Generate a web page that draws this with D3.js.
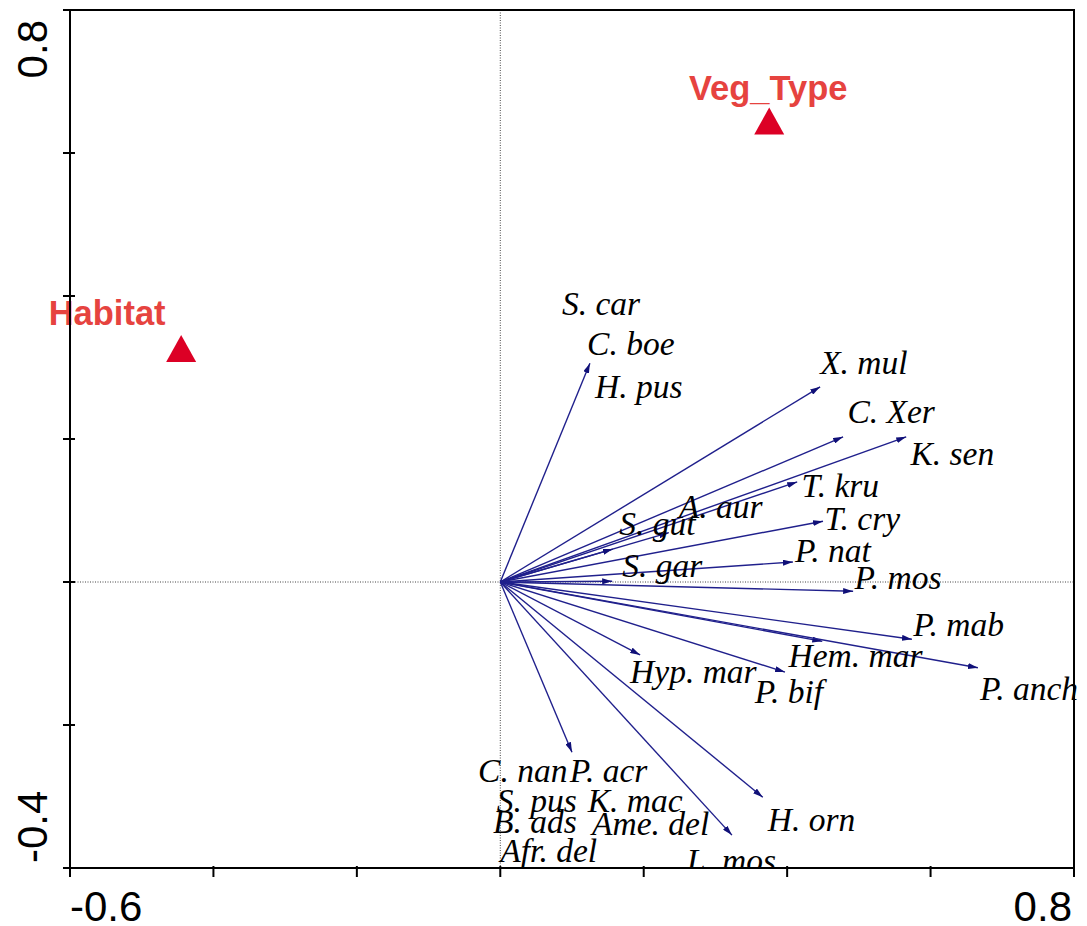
<!DOCTYPE html>
<html>
<head>
<meta charset="utf-8">
<script src="https://cdn.jsdelivr.net/npm/d3@7"></script>
<style>
  html, body { margin: 0; padding: 0; background: #fff; }
  svg { display: block; }
</style>
</head>
<body>
<svg id="chart" width="1087" height="926"></svg>
<script>
// ---- Data ----
const xDomain = [-0.6, 0.8];
const yDomain = [-0.4, 0.8];
const xTicks = [-0.6, -0.4, -0.2, 0, 0.2, 0.4, 0.6, 0.8];
const yTicks = [-0.4, -0.2, 0, 0.2, 0.4, 0.6, 0.8];
const xTickLabels = ["-0.6", "0.8"];   // only end values are labelled
const yTickLabels = ["-0.4", "0.8"];

// Species arrows (null = arrow hidden under another one)
const speciesNames = ["S. car","C. boe","H. pus","X. mul","C. Xer","K. sen","T. kru","A. aur","S. gut","T. cry","P. nat","S. gar","P. mos","P. mab","Hem. mar","P. anch","P. bif","Hyp. mar","C. nan","P. acr","S. pus","K. mac","B. ads","Ame. del","Afr. del","L. mos","H. orn"];
const speciesX = [null,0.125,null,0.446,0.478,0.566,0.414,0.235,0.157,0.450,0.408,0.156,0.492,0.574,0.449,0.666,0.397,0.195,null,0.100,null,null,null,null,null,0.323,0.366];
const speciesY = [null,0.306,null,0.273,0.203,0.203,0.140,0.069,0.046,0.085,0.028,0.001,-0.013,-0.080,-0.083,-0.120,-0.126,-0.102,null,-0.238,null,null,null,null,null,-0.354,-0.301];
// label anchor (left / baseline) in axis units
const labelX = [0.086,0.121,0.132,0.446,0.484,0.572,0.420,0.249,0.166,0.452,0.411,0.170,0.494,0.576,0.402,0.669,0.355,0.181,-0.031,0.097,-0.005,0.122,-0.010,0.128,0.000,0.260,0.373];
const labelY = [0.373,0.317,0.257,0.291,0.222,0.164,0.119,0.090,0.066,0.073,0.028,0.007,-0.010,-0.076,-0.119,-0.165,-0.169,-0.141,-0.280,-0.280,-0.322,-0.322,-0.351,-0.354,-0.392,-0.406,-0.348];

// Environmental (nominal) variables
const envNames = ["Habitat", "Veg_Type"];
const envX = [-0.445, 0.375];
const envY = [0.326, 0.644];

// ---- Layout ----
const svg = d3.select("#chart");
const x = d3.scaleLinear().domain(xDomain).range([70, 1074]);
const y = d3.scaleLinear().domain(yDomain).range([868, 10]);

const navy = "#20208c";
const red = "#dc0025";
const redText = "#e6433f";

// clip for plot content (allow overflow to the right like the original)
svg.append("defs").append("clipPath").attr("id", "plotclip")
  .append("rect").attr("x", 0).attr("y", 0).attr("width", 1087).attr("height", y(yDomain[0]));

svg.select("defs").append("marker")
  .attr("id", "arrow")
  .attr("viewBox", "0 0 10 6")
  .attr("refX", 10).attr("refY", 3)
  .attr("markerWidth", 10).attr("markerHeight", 6)
  .attr("markerUnits", "userSpaceOnUse")
  .attr("orient", "auto")
  .append("path").attr("d", "M0,0 L10,3 L0,6 Z").attr("fill", "#101078");

// zero reference lines
svg.append("line")
  .attr("x1", x(0)).attr("x2", x(0)).attr("y1", y(yDomain[1])).attr("y2", y(yDomain[0]))
  .attr("stroke", "#444").attr("stroke-width", 1).attr("stroke-dasharray", "1,1.5");
svg.append("line")
  .attr("x1", x(xDomain[0])).attr("x2", x(xDomain[1])).attr("y1", y(0)).attr("y2", y(0))
  .attr("stroke", "#444").attr("stroke-width", 1).attr("stroke-dasharray", "1,1.5");

// arrows
const species = speciesNames.map((n, i) => ({name: n, x: speciesX[i], y: speciesY[i], lx: labelX[i], ly: labelY[i]}));
svg.append("g").selectAll("line")
  .data(species.filter(d => d.x !== null))
  .join("line")
  .attr("x1", x(0)).attr("y1", y(0))
  .attr("x2", d => x(d.x)).attr("y2", d => y(d.y))
  .attr("stroke", navy).attr("stroke-width", 1.4)
  .attr("marker-end", "url(#arrow)");

// species labels
svg.append("g").attr("clip-path", "url(#plotclip)").selectAll("text")
  .data(species)
  .join("text")
  .attr("x", d => x(d.lx)).attr("y", d => y(d.ly))
  .attr("font-family", "'Liberation Serif', 'Times New Roman', serif")
  .attr("font-style", "italic")
  .attr("font-size", 33.5)
  .attr("fill", "#000")
  .text(d => d.name);

// environmental triangles + labels
const env = envNames.map((n, i) => ({name: n, x: envX[i], y: envY[i]}));
svg.append("g").selectAll("path")
  .data(env)
  .join("path")
  .attr("transform", d => `translate(${x(d.x)},${y(d.y)})`)
  .attr("d", "M0,-14 L15,13 L-15,13 Z")
  .attr("fill", red);
svg.append("g").selectAll("text")
  .data(env)
  .join("text")
  .attr("x", d => x(d.x) + (d.name === "Habitat" ? -74 : -1))
  .attr("y", d => y(d.y) - (d.name === "Habitat" ? 24 : 22))
  .attr("text-anchor", "middle")
  .attr("font-family", "'Liberation Sans', Arial, sans-serif")
  .attr("font-weight", "bold")
  .attr("font-size", 34.5)
  .attr("fill", redText)
  .text(d => d.name);

// frame
svg.append("rect")
  .attr("x", x(xDomain[0])).attr("y", y(yDomain[1]))
  .attr("width", x(xDomain[1]) - x(xDomain[0]))
  .attr("height", y(yDomain[0]) - y(yDomain[1]))
  .attr("fill", "none").attr("stroke", "#000").attr("stroke-width", 2);

// ticks
svg.append("g").selectAll("line").data(xTicks).join("line")
  .attr("x1", d => x(d)).attr("x2", d => x(d))
  .attr("y1", y(yDomain[0]) - 2).attr("y2", y(yDomain[0]) + 9)
  .attr("stroke", "#000").attr("stroke-width", 2);
svg.append("g").selectAll("line").data(yTicks).join("line")
  .attr("y1", d => y(d)).attr("y2", d => y(d))
  .attr("x1", x(xDomain[0]) - 7).attr("x2", x(xDomain[0]) + 5)
  .attr("stroke", "#000").attr("stroke-width", 2);

// tick labels
const tickFont = "'Liberation Sans', Arial, sans-serif";
svg.append("text")
  .attr("x", x(xDomain[0])).attr("y", 921)
  .attr("font-family", tickFont).attr("font-size", 42)
  .attr("text-anchor", "start").text(xTickLabels[0]);
svg.append("text")
  .attr("x", x(xDomain[1]) - 2).attr("y", 921)
  .attr("font-family", tickFont).attr("font-size", 42)
  .attr("text-anchor", "end").text(xTickLabels[1]);
svg.append("text")
  .attr("transform", `translate(47,${y(yDomain[0]) - 5}) rotate(-90)`)
  .attr("font-family", tickFont).attr("font-size", 42)
  .attr("text-anchor", "start").text(yTickLabels[0]);
svg.append("text")
  .attr("transform", `translate(47,${y(yDomain[1]) + 10}) rotate(-90)`)
  .attr("font-family", tickFont).attr("font-size", 42)
  .attr("text-anchor", "end").text(yTickLabels[1]);
</script>
</body>
</html>
